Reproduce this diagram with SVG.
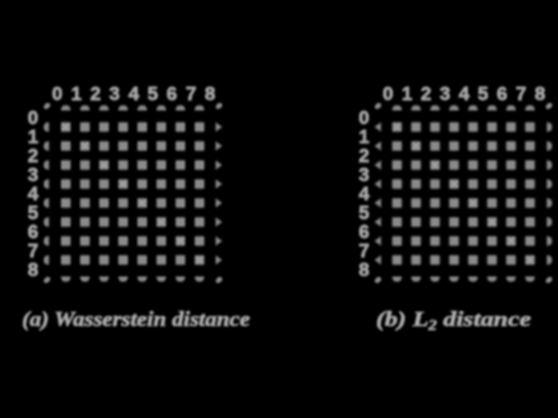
<svg xmlns="http://www.w3.org/2000/svg" width="558" height="418" viewBox="0 0 558 418">
<style>
.dg{font-family:"Liberation Sans",Arial,sans-serif;font-weight:bold;font-size:19px;fill:#a8a8a8;text-anchor:middle;stroke:#a8a8a8;stroke-width:0.8}
.cap{font-family:"Liberation Serif","Times New Roman",serif;font-weight:bold;font-style:italic;font-size:22px;fill:#b0b0b0;stroke:#b0b0b0;stroke-width:0.6}
.b{fill:#8a8a8a}
.x{stroke:#a6a6a6;stroke-width:1.6;fill:none}
</style>
<defs>
<filter id="bl" x="-5%" y="-5%" width="110%" height="110%"><feGaussianBlur stdDeviation="1.2"/></filter>
<rect id="sq" class="b" x="-4.8" y="-4.8" width="9.6" height="9.6" rx="1"/>
<path id="dt" class="b" d="M-4.8,2.6 Q-4.8,-2.8 0,-2.8 Q4.8,-2.8 4.8,2.6 Z"/>
<path id="db" class="b" d="M-4.8,-2.6 Q-4.8,2.8 0,2.8 Q4.8,2.8 4.8,-2.6 Z"/>
<path id="hl" class="b" d="M2.2,-4.8 Q-3,-4.8 -3,0 Q-3,4.8 2.2,4.8 Z"/>
<path id="hr" class="b" d="M-2.2,-4.8 Q3,-4.8 3,0 Q3,4.8 -2.2,4.8 Z"/>
<path id="tl" class="b" d="M3,-4.8 L-3.5,0 L3,4.8 Z"/>
<path id="tr" class="b" d="M-3,-4.8 L3.5,0 L-3,4.8 Z"/>
<ellipse id="cn" class="b" rx="3.6" ry="2.6" transform="rotate(-45)"/>
<g id="xx"><path class="x" d="M-3.5,-3.5 L3.5,3.5 M3.5,-3.5 L-3.5,3.5"/></g>
<pattern id="pA" patternUnits="userSpaceOnUse" x="56.25" y="117.5" width="19.1" height="19"><use href="#sq" x="9.55" y="9.5"/></pattern>
<pattern id="pAt" patternUnits="userSpaceOnUse" x="56.25" y="98.5" width="19.1" height="19"><use href="#dt" x="9.55" y="9.5"/></pattern>
<pattern id="pAb" patternUnits="userSpaceOnUse" x="56.25" y="269.5" width="19.1" height="19"><use href="#db" x="9.55" y="9.5"/></pattern>
<pattern id="pAl" patternUnits="userSpaceOnUse" x="37.15" y="117.5" width="19.1" height="19"><use href="#hl" x="9.55" y="9.5"/></pattern>
<pattern id="pAr" patternUnits="userSpaceOnUse" x="209.05" y="117.5" width="19.1" height="19"><use href="#tr" x="9.55" y="9.5"/></pattern>
<pattern id="pB" patternUnits="userSpaceOnUse" x="387.5" y="117.5" width="19" height="19"><use href="#sq" x="9.5" y="9.5"/></pattern>
<pattern id="pBt" patternUnits="userSpaceOnUse" x="387.5" y="98.5" width="19" height="19"><use href="#dt" x="9.5" y="9.5"/></pattern>
<pattern id="pBb" patternUnits="userSpaceOnUse" x="387.5" y="269.5" width="19" height="19"><use href="#db" x="9.5" y="9.5"/></pattern>
<pattern id="pBl" patternUnits="userSpaceOnUse" x="368.5" y="117.5" width="19" height="19"><use href="#tl" x="9.5" y="9.5"/></pattern>
<pattern id="pBr" patternUnits="userSpaceOnUse" x="539.5" y="117.5" width="19" height="19"><use href="#hr" x="9.5" y="9.5"/></pattern>
</defs>
<rect width="558" height="418" fill="#000"/>
<g filter="url(#bl)">
<g id="gridA">
<rect x="56.25" y="117.5" width="152.8" height="152" fill="url(#pA)"/>
<rect x="56.25" y="98.5" width="152.8" height="19" fill="url(#pAt)"/>
<rect x="56.25" y="269.5" width="152.8" height="19" fill="url(#pAb)"/>
<rect x="37.15" y="117.5" width="19.1" height="152" fill="url(#pAl)"/>
<rect x="209.05" y="117.5" width="19.1" height="152" fill="url(#pAr)"/>
<use href="#cn" x="47" y="106"/>
<use href="#cn" x="219" y="106"/>
<use href="#cn" x="47" y="280"/>
<use href="#cn" x="219" y="280"/>
<use href="#xx" x="65.8" y="127"/><use href="#xx" x="84.9" y="146"/><use href="#xx" x="104" y="165"/><use href="#xx" x="123.1" y="184"/>
<use href="#xx" x="142.2" y="203"/><use href="#xx" x="161.3" y="222"/><use href="#xx" x="180.4" y="241"/><use href="#xx" x="199.5" y="260"/>
</g>
<g id="gridB">
<rect x="387.5" y="117.5" width="152" height="152" fill="url(#pB)"/>
<rect x="387.5" y="98.5" width="152" height="19" fill="url(#pBt)"/>
<rect x="387.5" y="269.5" width="152" height="19" fill="url(#pBb)"/>
<rect x="368.5" y="117.5" width="19" height="152" fill="url(#pBl)"/>
<rect x="539.5" y="117.5" width="19" height="152" fill="url(#pBr)"/>
<use href="#cn" x="378" y="106"/>
<use href="#cn" x="549" y="106"/>
<use href="#cn" x="378" y="280"/>
<use href="#cn" x="549" y="280"/>
<use href="#xx" x="397" y="127"/><use href="#xx" x="416" y="146"/><use href="#xx" x="435" y="165"/><use href="#xx" x="454" y="184"/>
<use href="#xx" x="473" y="203"/><use href="#xx" x="492" y="222"/><use href="#xx" x="511" y="241"/><use href="#xx" x="530" y="260"/>
</g>
<g id="labelsA">
<text class="dg" x="57.3" y="100">0</text><text class="dg" x="76.4" y="100">1</text><text class="dg" x="95.5" y="100">2</text>
<text class="dg" x="114.6" y="100">3</text><text class="dg" x="133.7" y="100">4</text><text class="dg" x="152.8" y="100">5</text>
<text class="dg" x="171.9" y="100">6</text><text class="dg" x="191" y="100">7</text><text class="dg" x="210.1" y="100">8</text>
<text class="dg" x="33" y="124">0</text><text class="dg" x="33" y="143">1</text><text class="dg" x="33" y="162">2</text>
<text class="dg" x="33" y="181">3</text><text class="dg" x="33" y="200">4</text><text class="dg" x="33" y="219">5</text>
<text class="dg" x="33" y="238">6</text><text class="dg" x="33" y="257">7</text><text class="dg" x="33" y="276">8</text>
</g>
<g id="labelsB">
<text class="dg" x="388" y="100">0</text><text class="dg" x="407" y="100">1</text><text class="dg" x="426" y="100">2</text>
<text class="dg" x="445" y="100">3</text><text class="dg" x="464" y="100">4</text><text class="dg" x="483" y="100">5</text>
<text class="dg" x="502" y="100">6</text><text class="dg" x="521" y="100">7</text><text class="dg" x="540" y="100">8</text>
<text class="dg" x="364" y="124">0</text><text class="dg" x="364" y="143">1</text><text class="dg" x="364" y="162">2</text>
<text class="dg" x="364" y="181">3</text><text class="dg" x="364" y="200">4</text><text class="dg" x="364" y="219">5</text>
<text class="dg" x="364" y="238">6</text><text class="dg" x="364" y="257">7</text><text class="dg" x="364" y="276">8</text>
</g>
<text class="cap" x="22" y="326" textLength="228" lengthAdjust="spacingAndGlyphs">(a) Wasserstein distance</text>
<text class="cap" x="376" y="326" textLength="155" lengthAdjust="spacingAndGlyphs">(b) L<tspan font-size="14" dy="4">2</tspan><tspan dy="-4"> distance</tspan></text>
</g>
</svg>
